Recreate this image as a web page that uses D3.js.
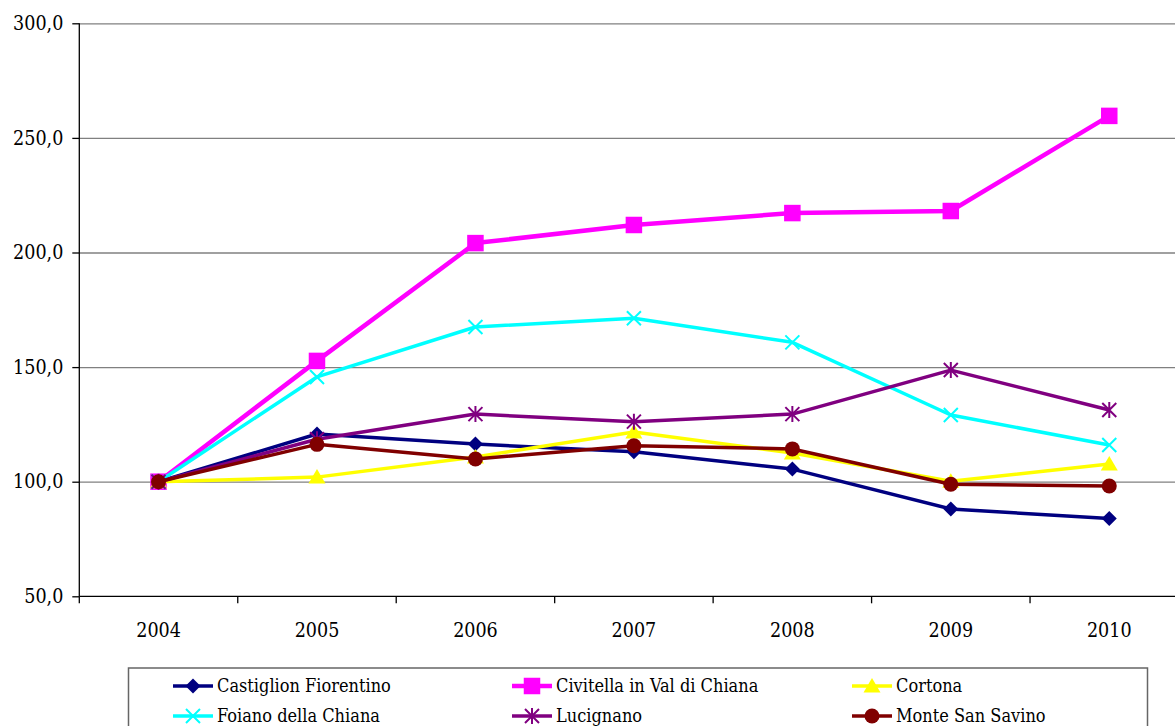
<html><head>
<title>Chiana index chart</title>
<script src="https://cdn.jsdelivr.net/npm/d3@7/dist/d3.min.js"></script>
<style>
  body { margin: 0; background: #fff; }
  svg text { font-family: "DejaVu Serif Condensed", "DejaVu Serif", serif; font-stretch: condensed; fill: #000; }
  .grid line { stroke: #808080; stroke-width: 1.3; }
  .grid path { display: none; }
  .axis path, .axis line { stroke: #000; stroke-width: 1.3; }
  .axis text { font-size: 19.5px; }
  .legend text { font-size: 18px; }
</style>
</head>
<body>
<svg width="1175" height="726"></svg>
<script>
// categories and values
var years = ["2004", "2005", "2006", "2007", "2008", "2009", "2010"];
var yTicks = [50, 100, 150, 200, 250, 300];

var castiglion = [100, 120.8, 116.4, 113.1, 105.5, 88.1, 83.9];
var civitella  = [100, 152.7, 204.1, 212.0, 217.2, 218.1, 259.6];
var cortona    = [100, 102.0, 110.8, 121.7, 112.5, 100.2, 107.7];
var foiano     = [100, 145.7, 167.5, 171.3, 160.8, 129.1, 116.0];
var lucignano  = [100, 118.5, 129.5, 126.2, 129.5, 148.7, 131.3];
var monte      = [100, 116.3, 109.9, 115.7, 114.3, 98.9, 98.1];

var series = [
  { name: "Castiglion Fiorentino",      values: castiglion, color: "#000080", marker: "diamond",  width: 3.5 },
  { name: "Civitella in Val di Chiana", values: civitella,  color: "#FF00FF", marker: "square",   width: 4.5 },
  { name: "Cortona",                    values: cortona,    color: "#FFFF00", marker: "triangle", width: 3.5 },
  { name: "Foiano della Chiana",        values: foiano,     color: "#00FFFF", marker: "cross",    width: 3.5 },
  { name: "Lucignano",                  values: lucignano,  color: "#800080", marker: "star",     width: 3.5 },
  { name: "Monte San Savino",           values: monte,      color: "#800000", marker: "circle",   width: 3.5 }
];

var svg = d3.select("svg");

var plotLeft = 79.3, plotRight = 1188.5, plotTop = 23.3, plotBottom = 596.3;

var x = d3.scaleBand().domain(years).range([plotLeft, plotRight]).padding(0);
var y = d3.scaleLinear().domain([50, 300]).range([plotBottom, plotTop]);
var cx = function(i) { return x(years[i]) + x.bandwidth() / 2; };

// horizontal gridlines
var grid = svg.append("g").classed("grid", true).attr("transform", "translate(" + plotLeft + ",0)");
d3.axisRight(y).tickValues(yTicks.slice(1)).tickSize(plotRight - plotLeft).tickFormat("")(grid);

// y axis
var yAxis = svg.append("g").classed("axis", true).attr("transform", "translate(" + plotLeft + ",0)");
d3.axisLeft(y).tickValues(yTicks).tickSize(7).tickPadding(9)
  .tickFormat(function(d) { return d3.format(".1f")(d).replace(".", ","); })(yAxis);
yAxis.select(".domain").attr("d", "M0," + plotBottom + "V" + plotTop);

// x axis: labels centred, ticks at category boundaries
var xAxis = svg.append("g").classed("axis", true).attr("transform", "translate(0," + plotBottom + ")");
d3.axisBottom(x).tickSize(0).tickPadding(27)(xAxis);
xAxis.select(".domain").attr("d", "M" + plotLeft + ",0H" + plotRight);
xAxis.selectAll(".bound").data(years).enter().append("line")
  .attr("x1", function(d) { return x(d); }).attr("x2", function(d) { return x(d); })
  .attr("y1", 0).attr("y2", 7);

var line = d3.line().x(function(d, i) { return cx(i); }).y(function(d) { return y(d); });

function drawMarker(g, kind, color) {
  if (kind === "diamond") {
    g.append("path").attr("d", "M0,-7.5L7.5,0L0,7.5L-7.5,0Z").attr("fill", color);
  } else if (kind === "square") {
    g.append("rect").attr("x", -7.5).attr("y", -7.5).attr("width", 15).attr("height", 15)
      .attr("fill", color).attr("stroke", color).attr("stroke-width", 1.5);
  } else if (kind === "triangle") {
    g.append("path").attr("d", "M0,-8L8.5,6.5L-8.5,6.5Z").attr("fill", color);
  } else if (kind === "cross") {
    g.append("path").attr("d", "M-7,-7L7,7M-7,7L7,-7").attr("stroke", color).attr("stroke-width", 2);
  } else if (kind === "star") {
    g.append("path").attr("d", "M-7,-7L7,7M-7,7L7,-7M0,-8V8").attr("stroke", color).attr("stroke-width", 2);
  } else if (kind === "circle") {
    g.append("circle").attr("r", 7.5).attr("fill", color);
  }
}

series.forEach(function(s) {
  var g = svg.append("g");
  g.append("path").datum(s.values).attr("d", line)
    .attr("fill", "none").attr("stroke", s.color).attr("stroke-width", s.width)
    .attr("stroke-linejoin", "round");
  s.values.forEach(function(v, i) {
    drawMarker(g.append("g").attr("transform", "translate(" + cx(i) + "," + y(v) + ")"), s.marker, s.color);
  });
});

// legend
var legend = svg.append("g").classed("legend", true);
legend.append("rect").attr("x", 128.5).attr("y", 668).attr("width", 1019).attr("height", 100)
  .attr("fill", "none").attr("stroke", "#666").attr("stroke-width", 1.5);
var colX = [173, 512, 852], rowY = [686, 716];
series.forEach(function(s, i) {
  var lx = colX[i % 3], ly = rowY[Math.floor(i / 3)];
  var g = legend.append("g").attr("transform", "translate(" + lx + "," + ly + ")");
  g.append("line").attr("x1", 0).attr("x2", 40).attr("y1", 0).attr("y2", 0)
    .attr("stroke", s.color).attr("stroke-width", s.width);
  drawMarker(g.append("g").attr("transform", "translate(20,0)"), s.marker, s.color);
  g.append("text").attr("x", 44).attr("y", 0).attr("dy", "0.35em").text(s.name);
});
</script>
</body>
</html>
